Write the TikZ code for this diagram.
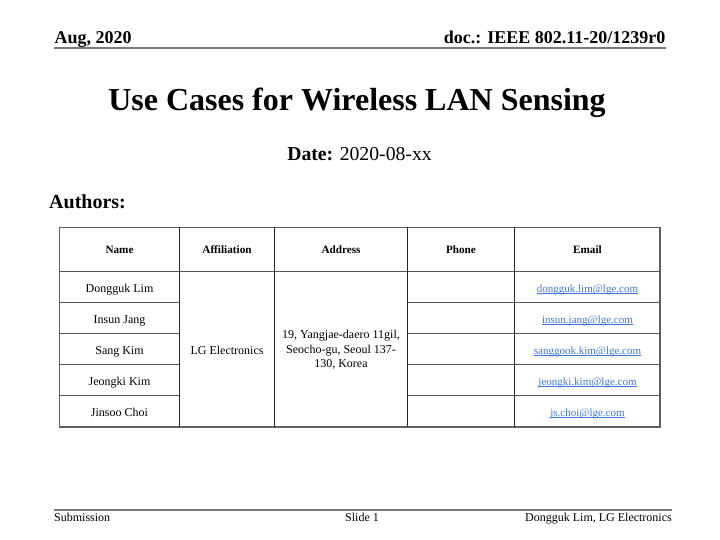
\documentclass[tikz,border=0pt]{standalone}
\usepackage{fontspec}
\setmainfont{Liberation Serif}
\usepackage{tikz}
\usetikzlibrary{positioning}

\definecolor{rulegray}{RGB}{120,120,120}
\definecolor{gridgray}{RGB}{85,85,85}
\definecolor{linkblue}{RGB}{60,120,225}

\tikzset{
	headtext/.style={font=\fontsize{18}{21}\selectfont\bfseries,inner sep=0pt},
	foottext/.style={font=\fontsize{12}{14}\selectfont,inner sep=0pt},
	thcell/.style={font=\fontsize{11.2}{13}\selectfont\bfseries,inner sep=0pt,anchor=base},
	tdcell/.style={font=\fontsize{12}{14.5}\selectfont,inner sep=0pt,anchor=base},
	maillink/.style={font=\fontsize{11}{13}\selectfont,text=linkblue,inner sep=0pt,anchor=base},
	grid/.style={gridgray,line width=1.1pt},
	border/.style={rulegray!80!black,line width=1.5pt},
	colline/.style={black!85,line width=0.9pt}
}
\newcommand{\mailtext}[1]{\underline{\smash{#1}}}

\begin{document}
\begin{tikzpicture}[x=1pt,y=-1pt]
	\useasboundingbox (0,0) rectangle (720,540);
	\fill[white] (0,0) rectangle (720,540);

	% header and footer
	\node[headtext,anchor=base west] (month) at (54.5,43.3) {Aug, 2020};
	\node[headtext,anchor=base east] (docid) at (665.5,43.3) {doc.: IEEE 802.11-20/1239r0};
	\coordinate (hl) at (54,47.7);
	\coordinate (hr) at (665.7,47.7);
	\draw[rulegray,line width=1.7pt] (hl) -- (hr);

	\coordinate (fl) at (54,509.7);
	\coordinate (fr) at (672.3,509.7);
	\draw[rulegray,line width=1.7pt] (fl) -- (fr);
	\node[foottext,anchor=base west] (subm) at (54,521.7) {Submission};
	\node[foottext,anchor=base] (slide) at (362,521.7) {Slide 1};
	\node[foottext,anchor=base east] (who) at (672,521.7) {Dongguk Lim, LG Electronics};

	% title
	\node[font=\fontsize{32}{38}\selectfont\bfseries,inner sep=0pt,anchor=base] (title) at (357,110.8) {Use Cases for Wireless LAN Sensing};
	\node[font=\fontsize{19.7}{23}\selectfont,inner sep=0pt,anchor=base] (date) at (359.5,160.5) {\textbf{Date:} 2020-08-xx};
	\node[font=\fontsize{20}{23}\selectfont\bfseries,inner sep=0pt,anchor=base west] (authors) at (49,208.3) {Authors:};

	% table corners
	\coordinate (tl) at (59.7,227.4);
	\coordinate (tr) at (660,227.4);
	\coordinate (bl) at (59.7,426.8);
	\coordinate (br) at (660,426.8);
	\coordinate (r0l) at (59.7,271.7);
	\coordinate (r0r) at (660,271.7);
	\coordinate (r1l) at (59.7,302.7);
	\coordinate (r1m) at (179.8,302.7);
	\coordinate (r1k) at (407,302.7);
	\coordinate (r1r) at (660,302.7);
	\coordinate (r2l) at (59.7,333.7);
	\coordinate (r2m) at (179.8,333.7);
	\coordinate (r2k) at (407,333.7);
	\coordinate (r2r) at (660,333.7);
	\coordinate (r3l) at (59.7,364.7);
	\coordinate (r3m) at (179.8,364.7);
	\coordinate (r3k) at (407,364.7);
	\coordinate (r3r) at (660,364.7);
	\coordinate (r4l) at (59.7,395.7);
	\coordinate (r4m) at (179.8,395.7);
	\coordinate (r4k) at (407,395.7);
	\coordinate (r4r) at (660,395.7);
	\coordinate (c1t) at (179.8,227.4);
	\coordinate (c1b) at (179.8,426.8);
	\coordinate (c2t) at (274.5,227.4);
	\coordinate (c2b) at (274.5,426.8);
	\coordinate (c3t) at (407,227.4);
	\coordinate (c3b) at (407,426.8);
	\coordinate (c4t) at (514.7,227.4);
	\coordinate (c4b) at (514.7,426.8);

	\draw[border] (tl) -- (tr) -- (br) -- (bl) -- cycle;
	\draw[grid] (r0l) -- (r0r);
	\draw[grid] (r1l) -- (r1m);
	\draw[grid] (r1k) -- (r1r);
	\draw[grid] (r2l) -- (r2m);
	\draw[grid] (r2k) -- (r2r);
	\draw[grid] (r3l) -- (r3m);
	\draw[grid] (r3k) -- (r3r);
	\draw[grid] (r4l) -- (r4m);
	\draw[grid] (r4k) -- (r4r);
	\draw[colline] (c1t) -- (c1b);
	\draw[colline] (c2t) -- (c2b);
	\draw[colline] (c3t) -- (c3b);
	\draw[colline] (c4t) -- (c4b);

	% table header
	\node[thcell] (hname) at (119.5,254) {Name};
	\node[thcell] (haff) at (227,254) {Affiliation};
	\node[thcell] (haddr) at (341,254) {Address};
	\node[thcell] (hphone) at (461,254) {Phone};
	\node[thcell] (hmail) at (587.5,254) {Email};

	% names
	\node[tdcell] (n1) at (119.5,292.3) {Dongguk Lim};
	\node[tdcell] (n2) at (119.5,323.3) {Insun Jang};
	\node[tdcell] (n3) at (119.5,354.3) {Sang Kim};
	\node[tdcell] (n4) at (119.5,385.3) {Jeongki Kim};
	\node[tdcell] (n5) at (119.5,416.3) {Jinsoo Choi};

	\node[tdcell] (aff) at (227,354.3) {LG Electronics};
	\node[tdcell,anchor=center,align=center] (addr) at (341,350) {19, Yangjae-daero 11gil,\\Seocho-gu, Seoul 137-\\130, Korea};

	% mails
	\node[maillink] (m1) at (587.5,292) {\mailtext{dongguk.lim@lge.com}};
	\node[maillink] (m2) at (587.5,323) {\mailtext{insun.jang@lge.com}};
	\node[maillink] (m3) at (587.5,354) {\mailtext{sanggook.kim@lge.com}};
	\node[maillink] (m4) at (587.5,385) {\mailtext{jeongki.kim@lge.com}};
	\node[maillink] (m5) at (587.5,416) {\mailtext{js.choi@lge.com}};

\end{tikzpicture}
\end{document}
